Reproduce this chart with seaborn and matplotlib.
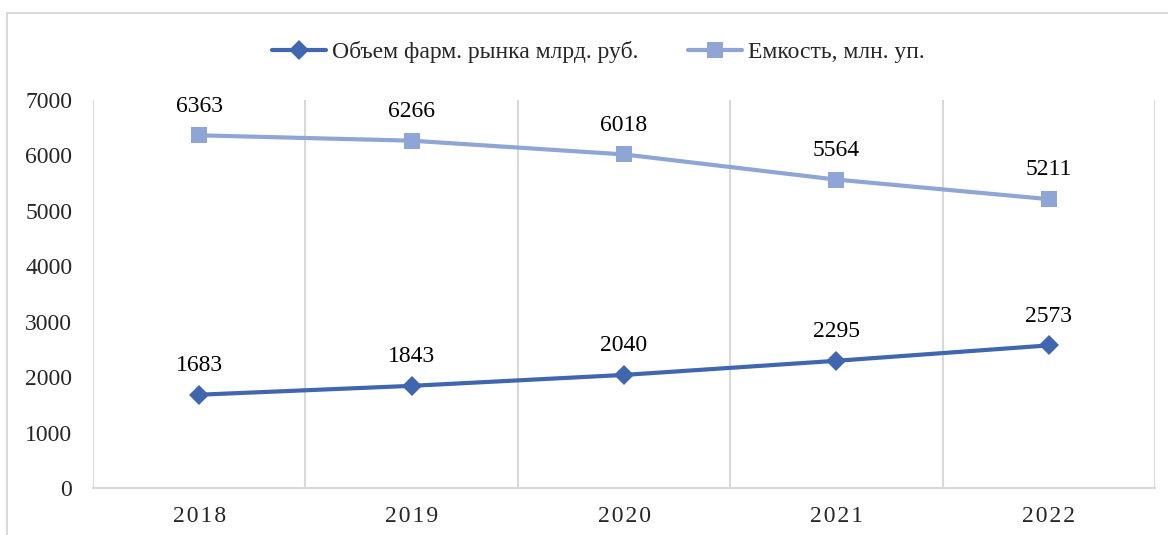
import matplotlib
matplotlib.use("Agg")
import matplotlib.pyplot as plt
from matplotlib.lines import Line2D
import seaborn as sns
import pandas as pd

# data
years = ["2018", "2019", "2020", "2021", "2022"]
market_volume = [1683, 1843, 2040, 2295, 2573]   # Объем фарм. рынка млрд. руб.
capacity = [6363, 6266, 6018, 5564, 5211]        # Емкость, млн. уп.
series_names = ["Объем фарм. рынка млрд. руб.", "Емкость, млн. уп."]
colors = ["#4066B0", "#8EA5D6"]

sns.set_theme(style="white")
plt.rcParams["font.family"] = ["Liberation Serif", "DejaVu Serif"]

df = pd.DataFrame({
    "pos": list(range(len(years))) * 2,
    "value": market_volume + capacity,
    "series": [series_names[0]] * len(years) + [series_names[1]] * len(years),
})

fig = plt.figure(figsize=(11.68, 5.35), dpi=100)
ax = fig.add_axes([93 / 1168, 47 / 535, (1155 - 93) / 1168, (488 - 100) / 535])

sns.lineplot(data=df, x="pos", y="value", hue="series", style="series",
             markers={series_names[0]: "D", series_names[1]: "s"}, dashes=False,
             palette=colors, linewidth=3, ax=ax, legend=False)
# marker sizes
ax.lines[0].set_markersize(10)
ax.lines[1].set_markersize(12)
for ln in ax.lines:
    ln.set_markeredgewidth(0)

for vals in [market_volume, capacity]:
    for i, v in enumerate(vals):
        ax.annotate(str(v), (i, v), xytext=(0, 21), textcoords="offset points",
                    ha="center", va="center", fontsize=17, color="black")

ax.set_xlim(-0.5, len(years) - 0.5)
ax.set_ylim(0, 7000)
ax.set_yticks(range(0, 7001, 1000))
ax.set_yticklabels([str(t) for t in range(0, 7001, 1000)], fontsize=17)
ax.set_xticks(range(len(years)))
ax.set_xticklabels(["\u200a".join(y) for y in years], fontsize=17)
ax.tick_params(axis="y", length=0, pad=15)
ax.tick_params(axis="x", length=0, pad=13)
ax.set_xlabel("")
ax.set_ylabel("")

# vertical gridlines at category boundaries
for b in [i - 0.5 for i in range(len(years) + 1)]:
    ax.axvline(b, color="#D9D9D9", linewidth=1.5, zorder=0)
for s in ["top", "right", "left"]:
    ax.spines[s].set_visible(False)
ax.spines["bottom"].set_color("#D9D9D9")
ax.spines["bottom"].set_linewidth(1.5)

handles = [Line2D([], [], color=colors[0], marker="D", markersize=10, linewidth=3, markeredgewidth=0),
           Line2D([], [], color=colors[1], marker="s", markersize=12, linewidth=3, markeredgewidth=0)]
fig.legend(handles, series_names, loc="center", bbox_to_anchor=(0.512, 1 - 52 / 535),
           ncol=2, frameon=False, fontsize=17, handlelength=2.3, handletextpad=0.25,
           columnspacing=2.1)

# chart border (left and top visible)
fig.add_artist(Line2D([7 / 1168, 7 / 1168], [0, 1 - 13 / 535], transform=fig.transFigure,
                      color="#D9D9D9", linewidth=1.5))
fig.add_artist(Line2D([7 / 1168, 1], [1 - 13 / 535, 1 - 13 / 535], transform=fig.transFigure,
                      color="#D9D9D9", linewidth=1.5))

fig.savefig("out.png", dpi=100, facecolor="white")
